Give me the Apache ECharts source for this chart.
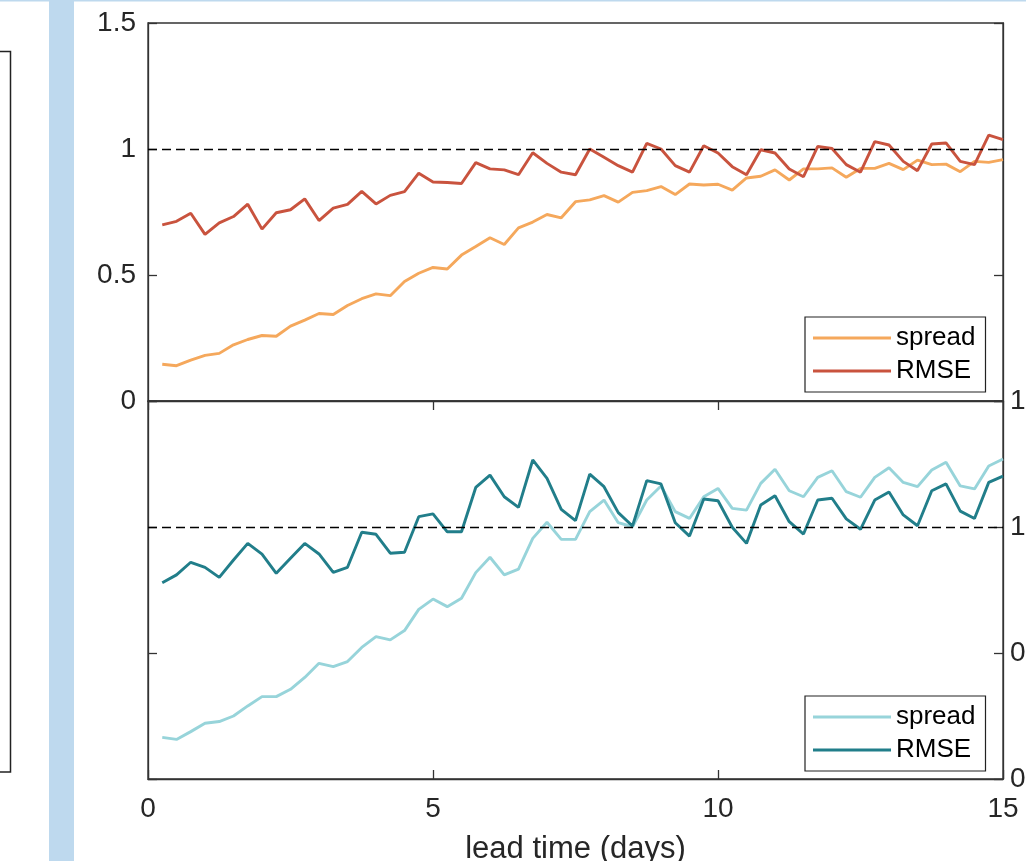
<!DOCTYPE html>
<html>
<head>
<meta charset="utf-8">
<script src="https://cdn.jsdelivr.net/npm/echarts@6/dist/echarts.min.js"></script>
<style>
html,body{margin:0;padding:0;background:#fff;}
#chart{width:1026px;height:861px;}
</style>
</head>
<body>
<div id="chart"></div>
<script>
const leadTime = [0.25,0.5,0.75,1,1.25,1.5,1.75,2,2.25,2.5,2.75,3,3.25,3.5,3.75,4,4.25,4.5,4.75,5,
  5.25,5.5,5.75,6,6.25,6.5,6.75,7,7.25,7.5,7.75,8,8.25,8.5,8.75,9,9.25,9.5,9.75,10,
  10.25,10.5,10.75,11,11.25,11.5,11.75,12,12.25,12.5,12.75,13,13.25,13.5,13.75,14,14.25,14.5,14.75,15];

const topSpread = [0.146,0.140,0.162,0.181,0.189,0.223,0.244,0.260,0.257,0.297,
  0.321,0.347,0.343,0.379,0.406,0.425,0.418,0.474,0.507,0.530,
  0.524,0.579,0.613,0.648,0.621,0.687,0.710,0.740,0.727,0.791,
  0.798,0.815,0.789,0.828,0.835,0.851,0.819,0.861,0.857,0.860,
  0.837,0.885,0.892,0.917,0.877,0.921,0.921,0.925,0.888,0.923,
  0.923,0.943,0.918,0.956,0.938,0.940,0.910,0.951,0.947,0.958];

const topRMSE = [0.699,0.713,0.745,0.661,0.707,0.732,0.781,0.682,0.747,0.759,
  0.802,0.716,0.765,0.780,0.832,0.782,0.816,0.831,0.904,0.869,
  0.867,0.863,0.946,0.921,0.917,0.898,0.985,0.943,0.908,0.898,
  1.000,0.967,0.934,0.908,1.022,1.000,0.934,0.908,1.013,0.984,
  0.930,0.898,0.997,0.984,0.921,0.890,1.010,1.002,0.938,0.908,
  1.029,1.016,0.951,0.914,1.020,1.024,0.951,0.938,1.055,1.037];

const botSpread = [0.165,0.157,0.188,0.221,0.228,0.250,0.290,0.327,0.327,0.356,
  0.403,0.459,0.446,0.466,0.522,0.565,0.552,0.589,0.673,0.714,
  0.684,0.717,0.819,0.880,0.810,0.833,0.955,1.019,0.951,0.951,
  1.061,1.107,1.017,1.001,1.107,1.163,1.061,1.034,1.120,1.153,
  1.074,1.067,1.173,1.229,1.144,1.120,1.197,1.223,1.140,1.118,
  1.197,1.235,1.177,1.160,1.226,1.257,1.163,1.151,1.242,1.270];

const botRMSE = [0.779,0.810,0.860,0.840,0.800,0.869,0.935,0.892,0.816,0.876,
  0.935,0.893,0.820,0.840,0.979,0.971,0.896,0.900,1.041,1.052,
  0.981,0.981,1.157,1.206,1.120,1.078,1.266,1.193,1.070,1.025,
  1.210,1.160,1.057,1.004,1.184,1.171,1.017,0.964,1.111,1.104,
  0.999,0.935,1.087,1.124,1.021,0.972,1.107,1.114,1.032,0.991,
  1.107,1.139,1.048,1.005,1.144,1.171,1.063,1.034,1.177,1.202];

const xTicks = [0, 5, 10, 15];
const yTicks = [0, 0.5, 1, 1.5];
const referenceLevel = 1;
const seriesNames = ['spread', 'RMSE'];
const axisName = 'lead time (days)';

const FONT = "'Liberation Sans', Arial, Helvetica, sans-serif";
const AX = '#333333';
const TXT = '#262626';
const C_ORANGE = '#F5A85C';
const C_RED = '#C9533E';
const C_LTEAL = '#97D4DA';
const C_TEAL = '#217E8A';

const pairs = (ys) => leadTime.map((x, i) => [x, ys[i]]);

const chart = echarts.init(document.getElementById('chart'), null, {renderer: 'canvas'});

const dashLine = {
  silent: true, symbol: 'none', label: {show: false},
  lineStyle: {color: '#000', type: [9, 5], width: 1.4},
  data: [{yAxis: referenceLevel}], animation: false
};

const xBase = {
  type: 'value', min: xTicks[0], max: xTicks[xTicks.length - 1], interval: 5,
  splitLine: {show: false},
  axisLine: {show: true, lineStyle: {color: AX, width: 1.3}},
};
const yBase = {
  type: 'value', min: yTicks[0], max: yTicks[yTicks.length - 1], interval: 0.5,
  splitLine: {show: false},
  axisLine: {show: true, lineStyle: {color: AX, width: 1.3}},
  axisTick: {show: true, inside: true, length: 9, lineStyle: {color: AX, width: 1.3}}
};

const gridBase = {show: true, borderColor: AX, borderWidth: 1.3, backgroundColor: 'transparent',
  containLabel: false, outerBoundsMode: 'none'};

const option = {
  animation: false,
  backgroundColor: '#fff',
  graphic: [
    {type: 'rect', shape: {x: 49, y: 0, width: 25, height: 861}, style: {fill: '#BED9EE'}, z: -10},
    {type: 'rect', shape: {x: 0, y: 0, width: 1026, height: 1.5}, style: {fill: '#BED9EE'}, z: -10},
    {type: 'polyline', shape: {points: [[0, 51.5], [10.5, 51.5], [10.5, 772], [0, 772]]},
     style: {stroke: '#222', lineWidth: 1.5, fill: null}}
  ],
  grid: [
    Object.assign({}, gridBase, {left: 148, top: 23, width: 855, height: 378}),
    Object.assign({}, gridBase, {left: 148, top: 401, width: 855, height: 378})
  ],
  xAxis: [
    Object.assign({}, xBase, {gridIndex: 0, position: 'bottom',
      axisLabel: {show: false},
      axisTick: {show: true, inside: false, length: 9, lineStyle: {color: AX, width: 1.3}}}),
    Object.assign({}, xBase, {gridIndex: 1, position: 'bottom',
      axisTick: {show: true, inside: true, length: 9, lineStyle: {color: AX, width: 1.3}},
      axisLabel: {show: true, color: TXT, fontSize: 28, fontFamily: FONT, margin: 16},
      name: axisName, nameLocation: 'middle', nameGap: 55,
      nameTextStyle: {color: TXT, fontSize: 31, fontFamily: FONT}})
  ],
  yAxis: [
    Object.assign({}, yBase, {gridIndex: 0, position: 'left',
      axisLabel: {show: true, color: TXT, fontSize: 28, fontFamily: FONT, margin: 12}}),
    Object.assign({}, yBase, {gridIndex: 0, position: 'right', axisLabel: {show: false}}),
    Object.assign({}, yBase, {gridIndex: 1, position: 'left', axisLabel: {show: false}}),
    Object.assign({}, yBase, {gridIndex: 1, position: 'right',
      axisLabel: {show: true, color: TXT, fontSize: 28, fontFamily: FONT, margin: 7}})
  ],
  legend: [
    {data: ['spread', 'RMSE'], left: 805, top: 317, orient: 'vertical',
     icon: 'rect', itemWidth: 78, itemHeight: 3, itemGap: 7,
     padding: [8, 10, 8, 8], borderColor: '#222', borderWidth: 1.2, backgroundColor: '#fff',
     selectedMode: false,
     textStyle: {color: '#000', fontSize: 26, fontFamily: FONT},
     formatter: (n) => n.trim()},
    {data: ['spread ', 'RMSE '], left: 805, top: 696, orient: 'vertical',
     icon: 'rect', itemWidth: 78, itemHeight: 3, itemGap: 7,
     padding: [8, 10, 8, 8], borderColor: '#222', borderWidth: 1.2, backgroundColor: '#fff',
     selectedMode: false,
     textStyle: {color: '#000', fontSize: 26, fontFamily: FONT},
     formatter: (n) => n.trim()}
  ],
  series: [
    {name: seriesNames[0], type: 'line', xAxisIndex: 0, yAxisIndex: 0, data: pairs(topSpread),
     symbol: 'none', color: C_ORANGE, lineStyle: {color: C_ORANGE, width: 2.9}, markLine: dashLine},
    {name: seriesNames[1], type: 'line', xAxisIndex: 0, yAxisIndex: 0, data: pairs(topRMSE),
     symbol: 'none', color: C_RED, lineStyle: {color: C_RED, width: 2.9}},
    {name: seriesNames[0] + ' ', type: 'line', xAxisIndex: 1, yAxisIndex: 3, data: pairs(botSpread),
     symbol: 'none', color: C_LTEAL, lineStyle: {color: C_LTEAL, width: 2.9}, markLine: dashLine},
    {name: seriesNames[1] + ' ', type: 'line', xAxisIndex: 1, yAxisIndex: 3, data: pairs(botRMSE),
     symbol: 'none', color: C_TEAL, lineStyle: {color: C_TEAL, width: 2.9}}
  ]
};

chart.setOption(option);
</script>
</body>
</html>
